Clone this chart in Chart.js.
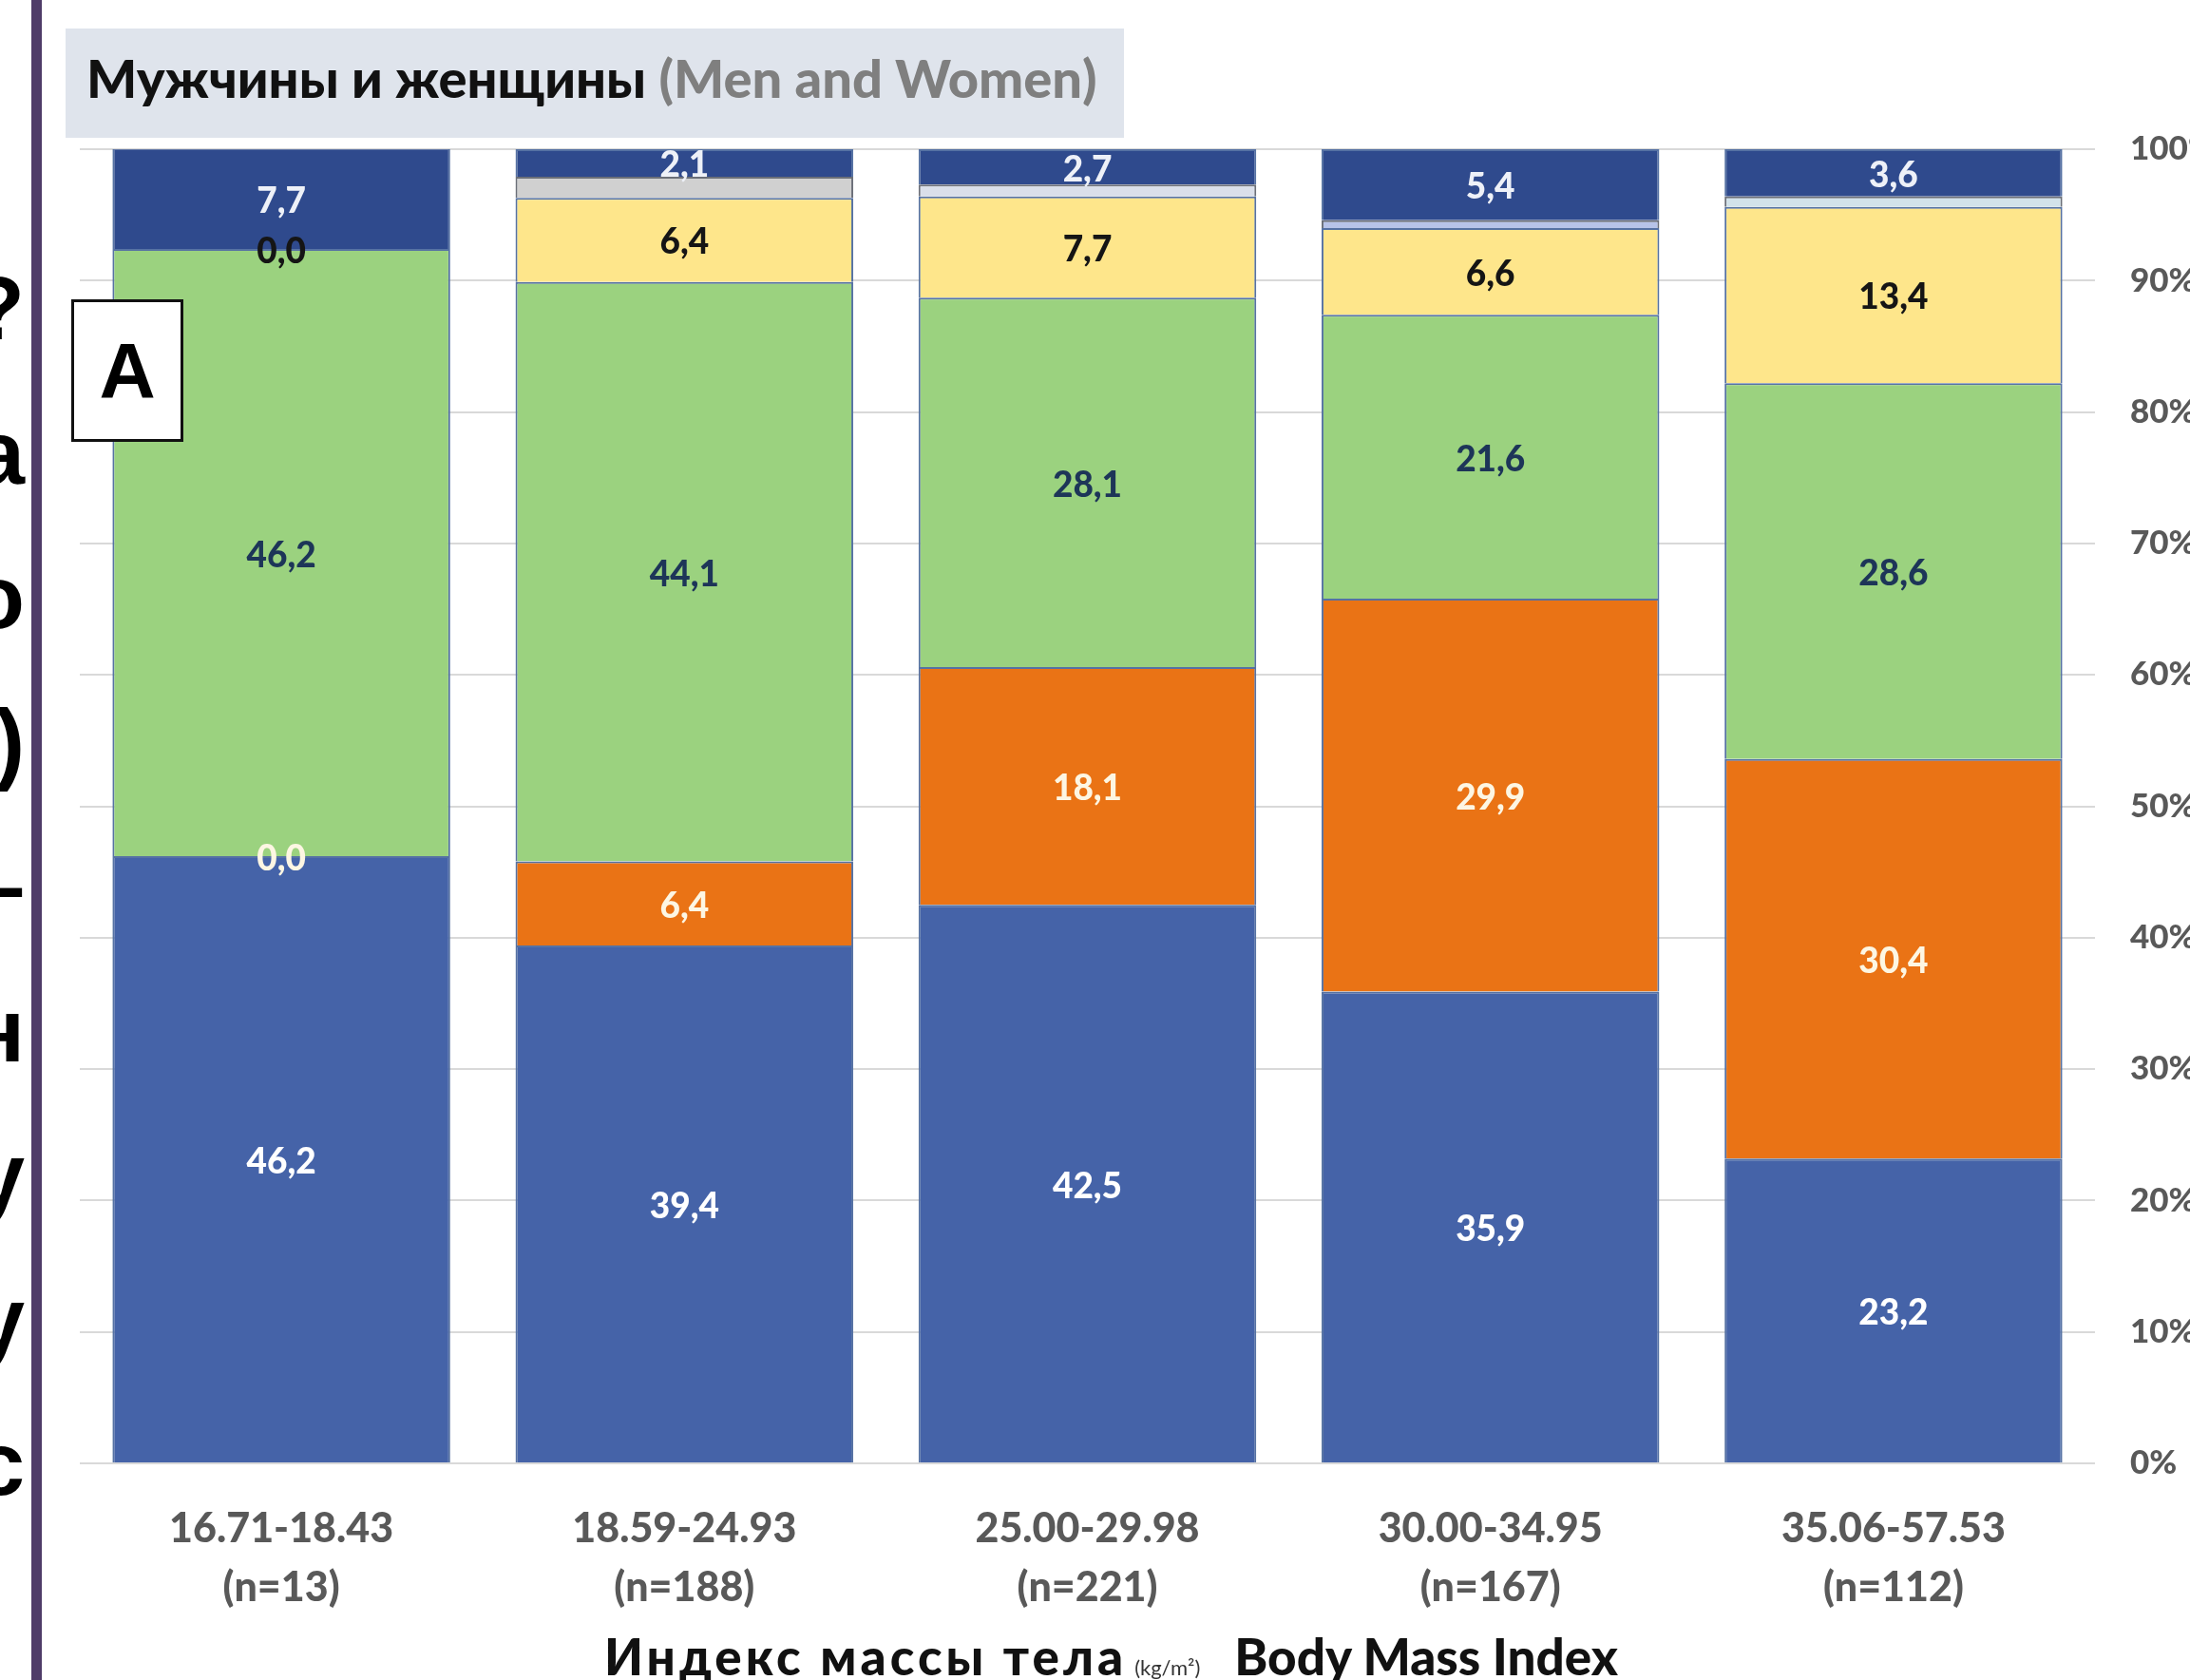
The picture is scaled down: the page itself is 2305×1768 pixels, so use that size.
<!DOCTYPE html>
<html>
<head>
<meta charset="utf-8">
<title>Индекс массы тела</title>
<script src="https://cdn.jsdelivr.net/npm/chart.js@4.4.0/dist/chart.umd.min.js"></script>
<style>
  body { margin: 0; width: 2305px; height: 1768px; overflow: hidden; background: #fff; position: relative; font-family: Lato, sans-serif; }
  #chartBox { position: absolute; left: 0; top: 0; width: 2305px; height: 1768px; }
  #purpleLine { position: absolute; left: 33px; top: 0; width: 11px; height: 1768px; background: #4f3c68; }
  #cutText { position: absolute; left: -190px; top: 249px; width: 216px; text-align: right; font: bold 94px 'Liberation Sans', Arial, sans-serif; line-height: 152px; color: #000; }
  #titleBox { position: absolute; left: 69px; top: 30px; width: 1114px; height: 115px; background: #dfe4ec; }
  #titleText { position: absolute; left: 22px; top: -6px; line-height: 115px; font-weight: 900; font-size: 56px; white-space: nowrap; color: #111; }
  #titleText .gray { color: #7f7f7f; }
  #boxA { position: absolute; left: 75px; top: 315px; width: 112px; height: 144px; border: 3px solid #111; background: #fff; font: bold 82px 'Liberation Sans', Arial, sans-serif; line-height: 144px; text-align: center; }
  #xTitle { position: absolute; left: 636px; top: 1711px; line-height: 64px; font-weight: 900; font-size: 53px; white-space: nowrap; color: #111; }
  #xTitle .ru { letter-spacing: 4px; }
  #xTitle .unit { font-size: 22px; font-weight: normal; color: #333; margin: 0 36px 0 8px; }
</style>
</head>
<body>
<canvas id="chartBox" width="2305" height="1768"></canvas>
<div id="cutText">?<br>а<br>о<br>)<br>–<br>н<br>у<br>у<br>с</div>
<div id="purpleLine"></div>
<div id="titleBox"><div id="titleText">Мужчины и женщины <span class="gray">(Men and Women)</span></div></div>
<div id="boxA">A</div>
<div id="xTitle"><span class="ru">Индекс массы тела</span><span class="unit">(kg/m²)</span>Body Mass Index</div>

<script>
'use strict';

// bmi groups and group sizes
let bmiRanges = ['16.71-18.43', '18.59-24.93', '25.00-29.98', '30.00-34.95', '35.06-57.53'];
let groupSizes = [13, 188, 221, 167, 112];

// percent values, stacked from the bottom up
let blueValues   = [46.2, 39.4, 42.5, 35.9, 23.2];
let orangeValues = [0.0, 6.4, 18.1, 29.9, 30.4];
let greenValues  = [46.2, 44.1, 28.1, 21.6, 28.6];
let yellowValues = [0.0, 6.4, 7.7, 6.6, 13.4];
let thinValues   = [0.0, 1.6, 0.9, 0.6, 0.8];   // no label in the picture, read from the heights
let navyValues   = [7.7, 2.1, 2.7, 5.4, 3.6];

let yTicks = [0, 10, 20, 30, 40, 50, 60, 70, 80, 90, 100];

let labels = [];
for (let i = 0; i < bmiRanges.length; i++) {
    labels.push([bmiRanges[i], '(n=' + groupSizes[i] + ')']);
}

// draws the numbers in the middle of every piece of the bars
const valueLabels = {
    id: 'valueLabels',
    afterDatasetsDraw(chart) {
        let ctx = chart.ctx;
        ctx.save();
        ctx.font = '900 37px Lato';
        ctx.textAlign = 'center';
        ctx.textBaseline = 'middle';
        chart.data.datasets.forEach(function (ds, i) {
            if (!ds.labelColor) return;
            let meta = chart.getDatasetMeta(i);
            meta.data.forEach(function (bar, j) {
                let txt = ds.data[j].toFixed(1).replace('.', ',');
                ctx.fillStyle = ds.labelColor;
                ctx.fillText(txt, bar.x, (bar.y + bar.base) / 2 + 3);
            });
        });
        ctx.restore();
    }
};

let edge = '#5672a3';

let ctx = document.getElementById('chartBox').getContext('2d');
let chart = new Chart(ctx, {
    type: 'bar',
    data: {
        labels: labels,
        datasets: [
            { data: blueValues, backgroundColor: '#4563a8', borderColor: edge, borderWidth: 2, labelColor: '#ffffff' },
            { data: orangeValues, backgroundColor: '#ea7315', borderColor: edge, borderWidth: 2, labelColor: '#fdf6e3' },
            { data: greenValues, backgroundColor: '#9bd27f', borderColor: edge, borderWidth: 2, labelColor: '#1d3558' },
            { data: yellowValues, backgroundColor: '#fee68b', borderColor: edge, borderWidth: 2, labelColor: '#151515' },
            { data: thinValues, backgroundColor: ['#d0d0d0', '#d0d0d0', '#dadfea', '#b7c3e8', '#d2e2ea'], borderColor: '#6b6f78', borderWidth: 2 },
            { data: navyValues, backgroundColor: '#2f4a8d', borderColor: edge, borderWidth: 2, labelColor: '#eef1f8' }
        ]
    },
    options: {
        responsive: false,
        animation: false,
        devicePixelRatio: 1,
        layout: { padding: { top: 157, left: 84, right: 0, bottom: 0 } },
        plugins: { legend: { display: false }, tooltip: { enabled: false } },
        datasets: { bar: { categoryPercentage: 1, barPercentage: 0.838 } },
        scales: {
            x: {
                stacked: true,
                grid: { display: false },
                border: { display: false },
                ticks: { color: '#595959', font: { family: 'Lato', size: 43, weight: '900', lineHeight: 1.45 }, padding: 30, maxRotation: 0 },
                afterFit: function (scale) { scale.height = 228; }
            },
            y: {
                stacked: true,
                position: 'right',
                min: 0,
                max: 100,
                afterBuildTicks: function (scale) { scale.ticks = yTicks.map(function (v) { return { value: v }; }); },
                grid: { color: '#d9d9d9', lineWidth: 2, drawTicks: false },
                border: { display: false },
                ticks: { color: '#595959', font: { family: 'Lato', size: 35, weight: '900' }, padding: 37, callback: function (v) { return v + '%'; } },
                afterFit: function (scale) { scale.width = 100; }
            }
        }
    },
    plugins: [valueLabels]
});
</script>
</body>
</html>
